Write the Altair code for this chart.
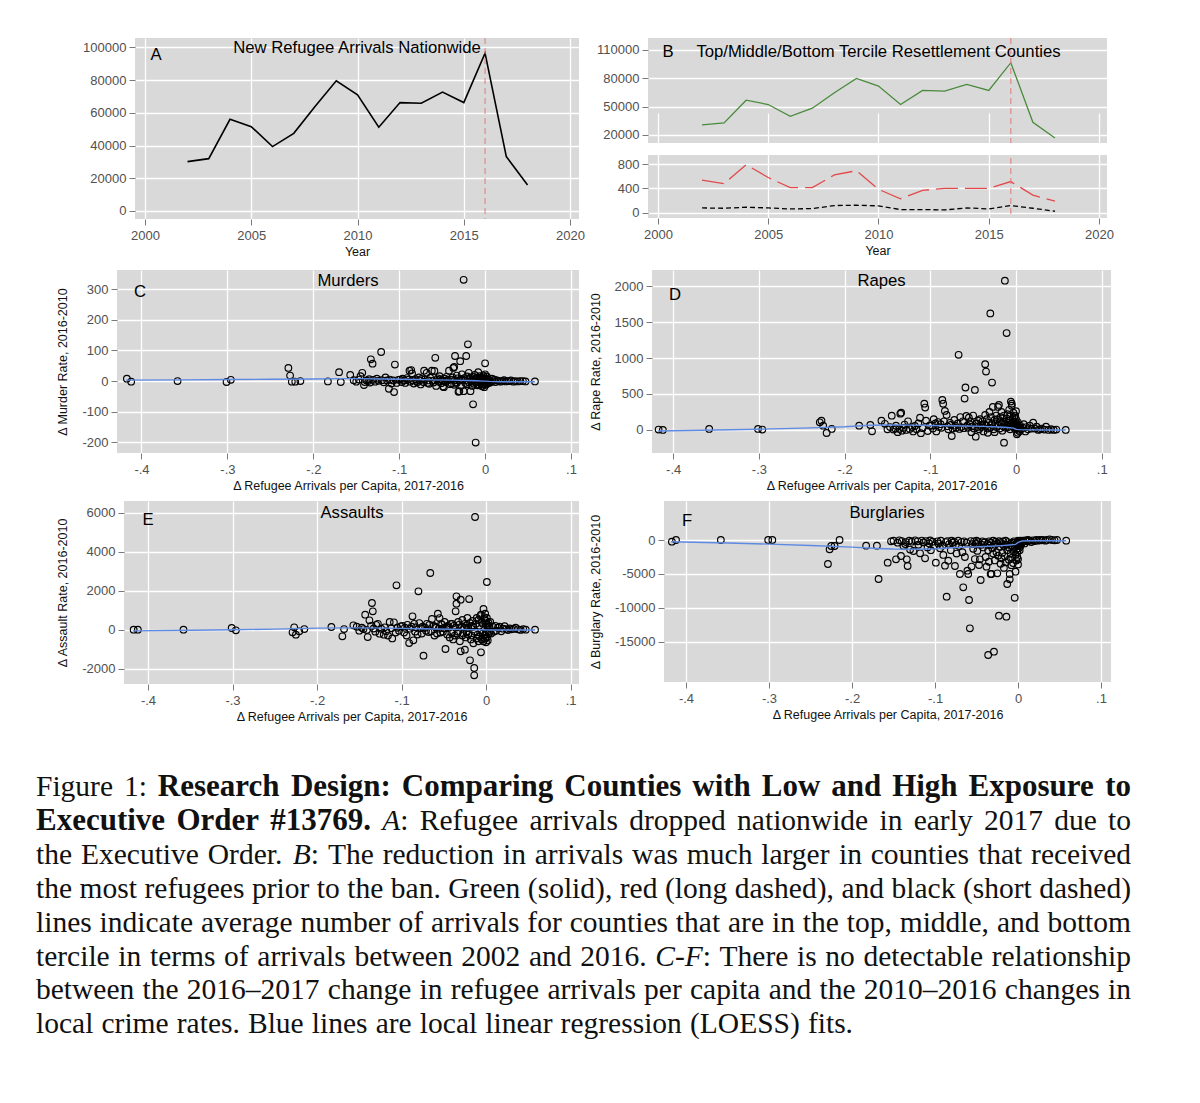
import altair as alt
import pandas as pd

# ------------------------------------------------------------------ data
YEARS = list(range(2002, 2019))
NATIONAL = [30200, 32000, 56100, 51600, 39400, 47500, 63900, 79600, 71000,
            51200, 66300, 65900, 72700, 66300, 96500, 33300, 15900]
TOP_TERCILE = [30630, 32760, 56850, 52250, 39840, 48350, 64650, 79890, 71740,
               52250, 67130, 66420, 73510, 67130, 96540, 33470, 16810]
MID_TERCILE = [535, 480, 789, 579, 414, 414, 623, 690, 386, 232, 370, 403,
               403, 403, 513, 292, 193]
BOT_TERCILE = [83, 77, 94, 83, 66, 72, 121, 127, 116, 55, 55, 50, 83, 66,
               121, 77, 28]
BAN_YEAR = [2016]

# county-level scatter values (x = change in refugee arrivals per capita)
X1 = [-0.417, -0.412, -0.358, -0.301, -0.296, -0.229, -0.227, -0.225, -0.221,
      -0.215, -0.183, -0.170, -0.168, -0.157]
C1 = [8, -2, 0, -3, 4, 43, 18, -2, -2, 0, -1, 29, -3, 20]
D1 = [5, 0, 14, 14, 5, 106, 129, 60, -42, 14, 60, 69, -18, 129]
E1 = [0, 0, 0, 86, -34, -137, 120, -257, -86, 34, 137, -342, 34, 223]
F1 = [-245, 0, 0, 0, 0, -3529, -1372, -882, -882, 0, -833, -833, -5735, -3333]

X2 = [-0.153, -0.150, -0.147, -0.145, -0.143, -0.141, -0.140, -0.138, -0.136, -0.135,
      -0.134, -0.133, -0.131, -0.130, -0.128, -0.126, -0.124, -0.121, -0.120, -0.118,
      -0.116, -0.114, -0.112, -0.111, -0.109, -0.107, -0.106, -0.105, -0.103, -0.101]
C2 = [3, -2, 5, 16, 27, -13, -3, 2, 0, 6,
      -5, 71, 57, 4, -2, 8, 1, 95, 3, -4,
      12, 2, -25, 5, -8, 2, -36, 54, -6, 4]
D2 = [85, 10, 40, 199, 5, 20, 60, -30, 15, 227,
      240, -10, 30, 75, 0, 120, 15, 40, -20, 55,
      10, 90, 170, -45, 25, 366, 311, 130, -15, 60]
E2 = [150, -50, 100, 30, 771, -20, -377, 479, 200, 1370,
      942, 60, -100, 250, 300, -205, 50, -257, 120, -80,
      -300, 400, 80, -450, 377, -150, 2277, 100, -60, 171]
F2 = [-200, -100, -2843, -400, -50, -2353, -150, -900, -600, -300,
      -2843, -3824, -100, -1400, -250, -1618, -50, -200, -700, -1961,
      -80, -350, -2696, -150, -1100, -500, -60, -1500, -250, -800]

X3 = [-0.099, -0.097, -0.096, -0.094, -0.093, -0.091, -0.090, -0.088, -0.087, -0.086,
      -0.085, -0.084, -0.083, -0.081, -0.080, -0.079, -0.077, -0.076, -0.075, -0.074,
      -0.072, -0.071, -0.070, -0.068, -0.067, -0.066, -0.065, -0.064, -0.062, -0.061,
      -0.060, -0.059, -0.058, -0.057, -0.056, -0.055, -0.054, -0.053, -0.052, -0.051,
      -0.050, -0.049, -0.048, -0.047, -0.046, -0.045, -0.044, -0.043, -0.042, -0.041]
C3 = [5, -3, 8, 2, -6, 10, 4, 34, -2, 36,
      25, 3, -8, 6, 0, -4, 12, 2, -11, 7,
      -3, 34, 5, 27, -6, 2, -9, 11, 34, 1,
      -5, 33, 76, -16, 4, 9, -2, 16, 6, -7,
      3, -18, -20, 8, -3, 14, 2, 5, 34, -10]
D3 = [60, 20, 150, 90, -20, 110, 40, 80, 30, 418,
      366, 120, 265, 209, 50, 10, 100, 70, -84, 20,
      140, 60, 30, 90, 1044, 15, 180, 40, 120, 25,
      436, 590, 195, 60, 30, 171, 80, 110, -30, 50,
      200, 20, 557, -93, 90, 40, 130, 10, 150, 70]
E3 = [200, -150, 100, -300, 250, -685, 50, 150, 685, -548,
      300, -100, 120, -250, 1969, 342, 80, -200, 150, -1336,
      100, -50, 300, -120, 250, 2911, -80, 548, 200, -300,
      150, 100, -200, 822, 50, 599, -150, 300, 250, -100,
      80, 400, -993, 150, -250, 200, 100, -400, 300, -150]
F3 = [-3333, -200, -500, -1200, -100, -800, -2200, -3775, -300, -8333,
      -150, -3040, -600, -1500, -100, -400, -250, -3824, -700, -2000,
      -100, -900, -5000, -300, -1800, -6960, -200, -2500, -400, -4510,
      -5000, -8824, -12990, -150, -3900, -600, -1300, -200, -2800, -500,
      -100, -1600, -300, -3676, -2843, -5882, -700, -200, -1100, -400]

X4 = [-0.040, -0.039, -0.038, -0.037, -0.036, -0.036, -0.035, -0.035, -0.034, -0.033,
      -0.033, -0.032, -0.031, -0.030, -0.030, -0.029, -0.028, -0.028, -0.027, -0.026,
      -0.025, -0.025, -0.024, -0.023, -0.023, -0.022, -0.021, -0.021, -0.020, -0.019,
      -0.019, -0.018, -0.017, -0.017, -0.016, -0.015, -0.015, -0.014, -0.014, -0.013,
      -0.013, -0.012, -0.011, -0.011, -0.010, -0.010, -0.009, -0.009, -0.008, -0.008,
      -0.007, -0.007, -0.006, -0.006, -0.005, -0.005, -0.004, -0.004, -0.003, -0.003,
      -0.002, -0.002, -0.002, -0.001, -0.001, -0.001, 0.000, 0.000, 0.000, 0.000,
      0.001, 0.001, 0.001, 0.002, 0.002, 0.002, 0.003, 0.003, 0.004, 0.004]
C4 = [5, -8, 12, 43, 46, -12, 82, 3, -5, 18,
      -6, 9, -35, -33, 2, 65, -15, 7, 22, 4,
      331, -33, 10, -6, 3, 82, 15, -10, 120, 27,
      -4, 8, -33, 12, -2, -16, 5, -76, 14, -9,
      3, 20, -201, -4, 11, 6, 11, -14, 29, -3,
      8, -12, 16, 2, -7, 10, -16, 4, -16, 13,
      -2, 18, 7, -10, 5, -20, 58, 22, -5, 3,
      -12, 9, 0, 15, -8, 4, -3, 6, -6, 2]
D4 = [40, 120, -20, 80, 915, 209, 812, 60, 150, -40,
      20, 100, 250, 1620, 30, 180, 659, 70, 320, 10,
      140, -30, 90, 200, 40, 150, 320, 60, 348, 110,
      20, 180, 80, 250, -10, 120, 50, -177, 200, 2075,
      90, 30, 160, 1347, 60, 220, 100, 40, 280, 130,
      10, 190, 70, 394, 366, 338, 150, 50, 240, 100,
      30, 180, 60, 120, 200, 10, 90, 260, 40, 150,
      -60, 80, 20, 110, -40, 60, 0, 30, -20, 40]
E4 = [300, -500, 200, -300, 942, 100, 1712, 1336, -200, 400,
      -100, 250, -600, 1541, -1113, 150, -300, 500, -200, 100,
      -1027, 300, -400, 200, -150, 600, -250, 100, 1575, -1575,
      350, -500, 200, -300, 450, -700, 150, -1969, -2346, 5788,
      -100, 300, -450, 600, 3596, -250, 500, -600, 200, -350,
      700, -150, 771, -1164, 400, -500, 300, -200, 1062, -600,
      550, -300, 650, -450, 822, -250, 450, -650, 300, -100,
      2449, 600, -400, 250, -550, 150, -200, 350, -100, 200]
F4 = [-300, -2500, -3922, -600, -16912, -1500, -200, -3200, -800, -5000,
      -400, -5000, -1200, -2000, -100, -16422, -700, -3000, -250, -1800,
      -4900, -500, -2300, -11127, -150, -1000, -3500, -300, -2700, -600,
      -1900, -200, -4100, -900, -2400, -100, -3300, -11275, -700, -6470,
      -1500, -300, -2900, -1100, -5784, -5000, -500, -2000, -3700, -800,
      -1300, -2600, -400, -3400, -1700, -200, -8500, -1000, -4657, -2200,
      -600, -3000, -1400, -2500, -300, -1800, -3600, -900, -100, -2800,
      -500, -1200, -200, -700, -1500, -400, -100, -900, -300, -600]

X5 = [0.005, 0.006, 0.008, 0.009, 0.011, 0.012, 0.014, 0.016, 0.018, 0.020,
      0.022, 0.024, 0.026, 0.028, 0.030, 0.033, 0.035, 0.038, 0.041, 0.044,
      0.047, 0.058]
C5 = [4, -5, 8, 0, 5, -3, 2, 0, -2, 1, 3, -1, 0, 0, 2, -2, 0, -1, 0, 0, -1, -1]
D5 = [60, 10, 30, 80, -20, 40, 10, 60, 20, 102, 20, 46, 0, 10, 20, 5, 46, 0, 10, 0, 5, 0]
E5 = [400, -200, 150, -100, 200, -50, 100, 150, -80, 50, 180, 30, -20, 60, 20, 40,
      100, 20, -10, 30, 0, 0]
F5 = [-300, -100, -500, -50, -200, 0, -100, -300, -50, -150, 0, -100, 0, -50, 0,
      -100, 0, 100, 0, -50, 0, -100]

# LOESS fits
LOESS_X = [-0.418, -0.35, -0.30, -0.25, -0.20, -0.17, -0.15, -0.12, -0.10, -0.08,
           -0.06, -0.04, -0.02, -0.01, -0.003, 0.0, 0.005, 0.02, 0.04, 0.058]
LOESS_MURDER = [3, 4, 5, 6, 7, 8, 8, 7, 6, 5, 4, 3, 2, 1, 0, 0, -1, -2, -2, -2]
LOESS_RAPE = [-15, 0, 10, 25, 45, 65, 70, 68, 62, 58, 55, 50, 42, 35, 25, 10, 5, 2, 0, 0]
LOESS_ASSAULT = [-60, -30, -5, 30, 80, 95, 95, 80, 65, 50, 35, 20, 5, 0, -5, -10,
                 -15, -20, -20, -20]
LOESS_BURGLARY = [-250, -450, -600, -800, -1050, -1250, -1330, -1350, -1280, -1150,
                  -1050, -950, -820, -730, -650, -350, -150, -110, -100, -100]

YEAR_TICKS = [2000, 2005, 2010, 2015, 2020]
A_TICKS = [0, 20000, 40000, 60000, 80000, 100000]
B_TOP_TICKS = [20000, 50000, 80000, 110000]
B_BOT_TICKS = [0, 400, 800]
X_TICKS = [-0.4, -0.3, -0.2, -0.1, 0, 0.1]
C_TICKS = [-200, -100, 0, 100, 200, 300]
D_TICKS = [0, 500, 1000, 1500, 2000]
E_TICKS = [-2000, 0, 2000, 4000, 6000]
F_TICKS = [-15000, -10000, -5000, 0]

CAPTION_LINES = [
    [("Figure 1: ", "r"), ("Research Design: Comparing Counties with Low and High Exposure to", "b")],
    [("Executive Order #13769.", "b"), (" ", "r"), ("A", "i"),
     (": Refugee arrivals dropped nationwide in early 2017 due to", "r")],
    [("the Executive Order. ", "r"), ("B", "i"),
     (": The reduction in arrivals was much larger in counties that received", "r")],
    [("the most refugees prior to the ban. Green (solid), red (long dashed), and black (short dashed)", "r")],
    [("lines indicate average number of arrivals for counties that are in the top, middle, and bottom", "r")],
    [("tercile in terms of arrivals between 2002 and 2016. ", "r"), ("C", "i"), ("-", "r"), ("F", "i"),
     (": There is no detectable relationship", "r")],
    [("between the 2016\u20132017 change in refugee arrivals per capita and the 2010\u20132016 changes in", "r")],
    [("local crime rates. Blue lines are local linear regression (LOESS) fits.", "r")],
]
LINE_ENDS = [1095, 1095, 1095, 1095, 1095, 1095, 1095, 817]

# ------------------------------------------------------------------ styles
SANS = "Liberation Sans"
SERIF = "Liberation Serif"
BG = "#d9d9d9"
GREEN = "#4a8a3c"
RED = "#e2494b"
RED_V = "#e07a7a"
BLUE = "#5f8ae3"
VIEW = alt.ViewBackground(fill=BG, stroke=None)
TITLE_FS = 16.7

X_ALL = X1 + X2 + X3 + X4 + X5
scat = pd.DataFrame({
    "x": X_ALL,
    "murder": C1 + C2 + C3 + C4 + C5,
    "rape": D1 + D2 + D3 + D4 + D5,
    "assault": E1 + E2 + E3 + E4 + E5,
    "burglary": F1 + F2 + F3 + F4 + F5,
})
loess = pd.DataFrame({"x": LOESS_X, "murder": LOESS_MURDER, "rape": LOESS_RAPE,
                      "assault": LOESS_ASSAULT, "burglary": LOESS_BURGLARY})


def label(text, x, y, size=TITLE_FS, align="center"):
    return alt.Chart(pd.DataFrame({"t": [text]})).mark_text(
        font=SANS, fontSize=size, color="black", align=align, baseline="alphabetic"
    ).encode(x=alt.value(x), y=alt.value(y), text="t:N")


def year_x(dom):
    return alt.X("year:Q", scale=alt.Scale(domain=dom, nice=False, zero=False),
                 axis=alt.Axis(values=YEAR_TICKS, format="d", title="Year", grid=True))


# ---- Panel A
A_X = [1999.53, 2020.42]
A_Y = [-4900, 105800]
dfA = pd.DataFrame({"year": YEARS, "arrivals": NATIONAL})
lineA = alt.Chart(dfA).mark_line(color="black", strokeWidth=1.6).encode(
    x=year_x(A_X),
    y=alt.Y("arrivals:Q", scale=alt.Scale(domain=A_Y, nice=False, zero=False),
            axis=alt.Axis(values=A_TICKS, format="d", title=None, grid=True)))
ruleA = alt.Chart(pd.DataFrame({"year": BAN_YEAR})).mark_rule(
    color=RED_V, strokeDash=[6, 4], strokeWidth=1).encode(x=year_x(A_X))
panelA = alt.layer(lineA, ruleA, label("New Refugee Arrivals Nationwide", 222, 15),
                   label("A", 21, 22)).properties(width=444, height=181, view=VIEW)

# ---- Panel B
B_X = [1999.55, 2020.36]
B_TOP = [11500, 122700]
B_BOT = [-82, 947]
dfBt = pd.DataFrame({"year": YEARS, "top": TOP_TERCILE})
dfBl = pd.DataFrame({"year": YEARS + YEARS, "avg": MID_TERCILE + BOT_TERCILE,
                     "group": ["Middle tercile"] * len(YEARS) + ["Bottom tercile"] * len(YEARS)})
topB = alt.Chart(dfBt).mark_line(color=GREEN, strokeWidth=1.3).encode(
    x=year_x(B_X),
    y=alt.Y("top:Q", scale=alt.Scale(domain=B_TOP, range=[105, 0], nice=False, zero=False),
            axis=alt.Axis(values=B_TOP_TICKS, format="d", title=None, orient="left", grid=True)))
lowB = alt.Chart(dfBl).mark_line(strokeWidth=1.3).encode(
    x=year_x(B_X),
    y=alt.Y("avg:Q", scale=alt.Scale(domain=B_BOT, range=[180, 117], nice=False, zero=False),
            axis=alt.Axis(values=B_BOT_TICKS, format="d", title=None, orient="left", grid=True)),
    color=alt.Color("group:N", scale=alt.Scale(domain=["Middle tercile", "Bottom tercile"],
                                               range=[RED, "black"]), legend=None),
    strokeDash=alt.StrokeDash("group:N", scale=alt.Scale(domain=["Middle tercile", "Bottom tercile"],
                                                         range=[[22, 7], [5, 3]]), legend=None))
ruleB = alt.Chart(pd.DataFrame({"year": BAN_YEAR})).mark_rule(
    color=RED_V, strokeDash=[6, 4], strokeWidth=1).encode(x=year_x(B_X))
gapB = alt.Chart(pd.DataFrame({"a": [0]})).mark_rect(color="white").encode(
    x=alt.value(0), x2=alt.value(459), y=alt.value(105), y2=alt.value(117))
panelB = alt.layer(topB, lowB, ruleB, gapB,
                   label("Top/Middle/Bottom Tercile Resettlement Counties", 230.5, 19),
                   label("B", 20, 19)).resolve_scale(y="independent").properties(
    width=459, height=180, view=VIEW)


# ---- Scatter panels
def scatter_panel(col, xdom, ydom, yticks, ytitle, title, tx, ty, letter, lx, ly, w, h):
    xenc = alt.X("x:Q", scale=alt.Scale(domain=xdom, nice=False, zero=False),
                 axis=alt.Axis(values=X_TICKS, labelExpr="replace(toString(datum.value), '0.', '.')",
                               title="\u0394 Refugee Arrivals per Capita, 2017-2016", grid=True))
    yenc = alt.Y(f"{col}:Q", scale=alt.Scale(domain=ydom, nice=False, zero=False),
                 axis=alt.Axis(values=yticks, labelExpr="toString(datum.value)", title=ytitle,
                               grid=True, titlePadding=12))
    pts = alt.Chart(scat).mark_point(shape="circle", filled=False, color="black", size=44,
                                     strokeWidth=1.15, opacity=1).encode(x=xenc, y=yenc)
    fit = alt.Chart(loess).mark_line(color=BLUE, strokeWidth=1.4).encode(x=xenc, y=yenc)
    return alt.layer(pts, fit, label(title, tx, ty), label(letter, lx, ly)).properties(
        width=w, height=h, view=VIEW)


panelC = scatter_panel("murder", [-0.4285, 0.1093], [-235, 363], C_TICKS,
                       "\u0394 Murder Rate, 2016-2010", "Murders", 231, 16, "C", 23, 27, 462, 183)
panelD = scatter_panel("rape", [-0.4247, 0.1108], [-320, 2223], D_TICKS,
                       "\u0394 Rape Rate, 2016-2010", "Rapes", 229.5, 16, "D", 23, 30, 459, 183)
panelE = scatter_panel("assault", [-0.4284, 0.110], [-2790, 6610], E_TICKS,
                       "\u0394 Assault Rate, 2016-2010", "Assaults", 228, 17, "E", 24, 24, 455, 183)
panelF = scatter_panel("burglary", [-0.4265, 0.112], [-20884, 5736], F_TICKS,
                       "\u0394 Burglary Rate, 2016-2010", "Burglaries", 223, 17, "F", 23, 25, 447, 181)

# ---- Caption (justified lines)
FS = {"r": 29.5, "i": 29.5, "b": 31.0}
REG_LC = [444, 500, 444, 500, 444, 333, 500, 500, 278, 278, 500, 278, 778, 500, 500, 500, 500,
          333, 389, 278, 500, 500, 722, 500, 500, 444]
REG_UC = [722, 667, 667, 722, 611, 556, 722, 722, 333, 389, 722, 611, 889, 722, 722, 556, 722,
          667, 556, 611, 722, 722, 944, 722, 722, 611]
BOLD_LC = [500, 556, 444, 556, 444, 333, 500, 556, 278, 333, 556, 278, 833, 556, 500, 556, 556,
           444, 389, 333, 556, 500, 722, 500, 500, 444]
BOLD_UC = [722, 667, 722, 722, 667, 611, 778, 778, 389, 500, 778, 667, 944, 722, 778, 611, 778,
           722, 556, 667, 722, 722, 1000, 722, 722, 667]
ITAL_UC = [611, 611, 667, 722, 611, 611, 722, 722, 333, 444, 667, 556, 833, 667, 722, 611, 722,
           611, 500, 556, 722, 611, 833, 611, 556, 556]
PUNCT = {" ": 250, ".": 250, ",": 250, ":": 278, ";": 278, "(": 333, ")": 333, "-": 333,
         "\u2013": 500, "#": 500, "/": 278}


def char_w(ch, st):
    if ch.isdigit():
        return 500
    if "a" <= ch <= "z":
        return (BOLD_LC if st == "b" else REG_LC)[ord(ch) - 97]
    if "A" <= ch <= "Z":
        tbl = BOLD_UC if st == "b" else (ITAL_UC if st == "i" else REG_UC)
        return tbl[ord(ch) - 65]
    if st == "b" and ch == ":":
        return 333
    return PUNCT.get(ch, 500)


def text_w(s, st):
    return sum(char_w(c, st) for c in s) / 1000.0 * FS[st]


def tokenize(segs):
    toks = [[]]
    for text, st in segs:
        parts = text.split(" ")
        for k, p in enumerate(parts):
            if k > 0:
                toks.append([])
            if p:
                toks[-1].append((p, st))
    return [t for t in toks if t]


cap_rows = []
for k, (segs, end) in enumerate(zip(CAPTION_LINES, LINE_ENDS)):
    toks = tokenize(segs)
    widths = [sum(text_w(t, s) for t, s in tok) for tok in toks]
    gap = (end - sum(widths)) / (len(toks) - 1)
    xpos = 0.0
    for tok, w in zip(toks, widths):
        px = xpos
        for t, s in tok:
            cap_rows.append({"px": px, "py": 35 + 33.9 * k, "t": t, "s": s})
            px += text_w(t, s)
        xpos += w + gap
cap = pd.DataFrame(cap_rows)


def cap_layer(style, **kw):
    return alt.Chart(cap[cap.s == style]).mark_text(
        font=SERIF, fontSize=FS[style], color="#111111", align="left", baseline="alphabetic", **kw
    ).encode(x=alt.X("px:Q", scale=None, axis=None), y=alt.Y("py:Q", scale=None, axis=None),
             text="t:N")


caption = alt.layer(cap_layer("r"), cap_layer("b", fontWeight="bold"),
                    cap_layer("i", fontStyle="italic")).properties(width=1095, height=280)


def spacer(w, h):
    return alt.Chart(pd.DataFrame({"t": [""]})).mark_text(
        fontSize=1, baseline="top", align="left").encode(
        x=alt.value(0), y=alt.value(0), text="t:N").properties(width=w, height=h)


row1 = alt.hconcat(spacer(99, 232), panelA, spacer(69, 1), panelB, spacing=0, bounds="flush")
row2 = alt.hconcat(spacer(81, 231), panelC, spacer(73, 1), panelD, spacing=0, bounds="flush")
row3 = alt.hconcat(spacer(88, 260), panelE, spacer(85, 1), panelF, spacing=0, bounds="flush")

chart = alt.vconcat(row1, row2, row3, caption, spacing=0).properties(
    padding={"left": 28, "top": 29, "right": 5, "bottom": 5}
).configure_view(stroke=None).configure_axis(
    labelFont=SANS, labelFontSize=13, labelColor="#505050", tickColor="#7a7a7a", tickSize=6,
    tickWidth=1, domain=False, gridColor="white", gridWidth=1.3, titleFont=SANS,
    titleFontSize=12.5, titleFontWeight="normal", titleColor="#111111", labelPadding=3
).configure_axisX(labelPadding=4, titlePadding=3)

chart.save("out.html", embed_options={"renderer": "svg", "actions": False})
